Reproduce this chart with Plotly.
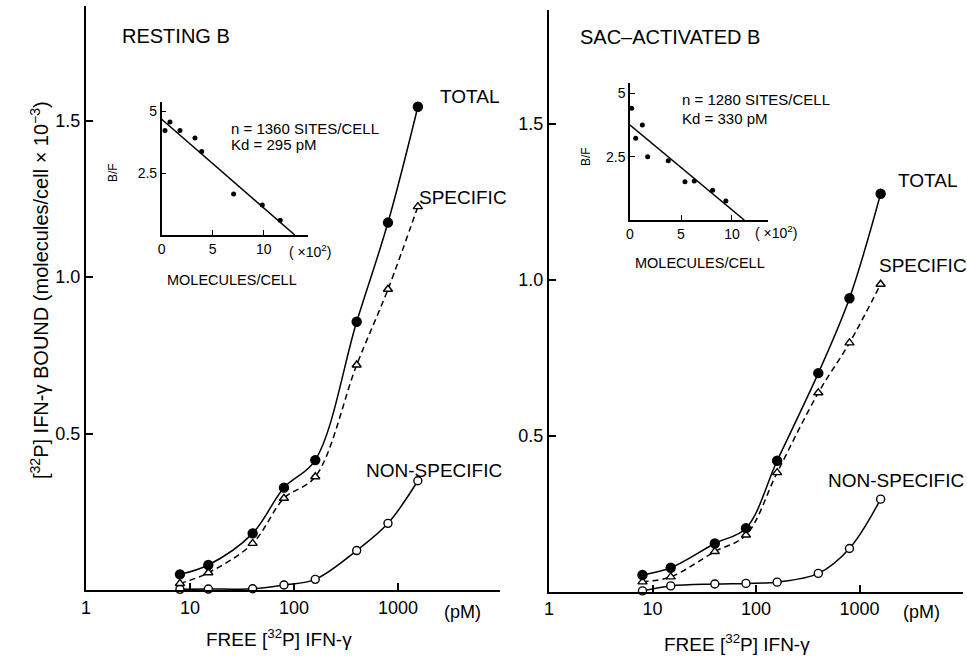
import plotly.graph_objects as go

W, H = 967, 658

# ---------------- data ----------------
conc_L = [8, 15, 40, 80, 160, 400, 800, 1550]
total_L = [0.050, 0.080, 0.181, 0.327, 0.415, 0.857, 1.174, 1.544]
spec_L = [0.021, 0.055, 0.149, 0.293, 0.362, 0.719, 0.961, 1.225]
nons_L = [0.002, 0.003, 0.004, 0.016, 0.034, 0.126, 0.213, 0.349]

conc_R = [8, 15, 40, 80, 160, 400, 800, 1600]
total_R = [0.053, 0.076, 0.154, 0.203, 0.419, 0.700, 0.940, 1.275]
spec_R = [0.031, 0.047, 0.128, 0.181, 0.381, 0.637, 0.797, 0.985]
nons_R = [0.002, 0.018, 0.024, 0.026, 0.030, 0.058, 0.138, 0.296]

# Scatchard insets (molecules/cell x10^2 vs B/F)
sc_x_L = [0.32, 0.81, 1.79, 3.26, 3.92, 7.05, 9.86, 11.62]
sc_y_L = [4.23, 4.58, 4.23, 3.93, 3.38, 1.66, 1.22, 0.60]
fit_x_L = [0.0, 13.05]
fit_y_L = [4.69, 0.0]

sc_x_R = [0.16, 0.56, 1.21, 1.73, 3.75, 5.39, 6.30, 8.10, 9.40]
sc_y_R = [4.41, 3.23, 3.75, 2.50, 2.34, 1.51, 1.54, 1.18, 0.75]
fit_x_R = [0.0, 11.2]
fit_y_R = [3.75, 0.0]

x_tickvals = [1, 10, 100, 1000]
x_ticktext = ["1", "10", "100", "1000"]
y_tickvals = [0.5, 1.0, 1.5]
y_ticktext = ["0.5", "1.0", "1.5"]
in_xtickvals = [0, 5, 10]
in_ytickvals = [2.5, 5]

FONT = "Liberation Sans, Arial, Helvetica, sans-serif"


def px(x):
    return min(1.0, max(0.0, x / W))


def py(y):
    return min(1.0, max(0.0, 1 - y / H))


fig = go.Figure()


def add_series(x, y, xa, ya, symbol, fill, dash, msize):
    fig.add_trace(go.Scatter(
        x=x, y=y, xaxis=xa, yaxis=ya, mode="lines+markers",
        line=dict(color="black", width=1.5, dash=dash, shape="spline", smoothing=1.0),
        marker=dict(symbol=symbol, size=msize, color=fill,
                    line=dict(color="black", width=1.4)),
        showlegend=False, hoverinfo="skip", cliponaxis=False))


# left panel
add_series(conc_L, nons_L, "x", "y", "circle", "white", "solid", 8)
add_series(conc_L, spec_L, "x", "y", "triangle-up", "white", "6px,4px", 8)
add_series(conc_L, total_L, "x", "y", "circle", "black", "solid", 9)
# right panel
add_series(conc_R, nons_R, "x2", "y2", "circle", "white", "solid", 8)
add_series(conc_R, spec_R, "x2", "y2", "triangle-up", "white", "6px,4px", 8)
add_series(conc_R, total_R, "x2", "y2", "circle", "black", "solid", 9)

# insets
for fx, fy, sx, sy, xa, ya in [(fit_x_L, fit_y_L, sc_x_L, sc_y_L, "x3", "y3"),
                               (fit_x_R, fit_y_R, sc_x_R, sc_y_R, "x4", "y4")]:
    fig.add_trace(go.Scatter(x=fx, y=fy, xaxis=xa, yaxis=ya, mode="lines",
                             line=dict(color="black", width=1.5),
                             showlegend=False, hoverinfo="skip", cliponaxis=False))
    fig.add_trace(go.Scatter(x=sx, y=sy, xaxis=xa, yaxis=ya, mode="markers",
                             marker=dict(color="black", size=5),
                             showlegend=False, hoverinfo="skip", cliponaxis=False))

main_x = dict(type="log", showline=True, linecolor="black", linewidth=2,
              ticks="inside", ticklen=7, tickwidth=1.5, tickcolor="black",
              tickvals=x_tickvals, ticktext=x_ticktext, showgrid=False,
              zeroline=False, tickfont=dict(family=FONT, size=18, color="black"),
              automargin=False)
main_y = dict(showline=True, linecolor="black", linewidth=2,
              ticks="inside", ticklen=7, tickwidth=1.5, tickcolor="black",
              tickvals=y_tickvals, ticktext=y_ticktext, showgrid=False,
              zeroline=False, tickfont=dict(family=FONT, size=18, color="black"),
              automargin=False)
in_x = dict(showline=True, linecolor="black", linewidth=1.5,
            ticks="inside", ticklen=5, tickwidth=1.2, tickcolor="black",
            tickvals=in_xtickvals, showgrid=False, zeroline=False,
            tickfont=dict(family=FONT, size=14, color="black"), automargin=False)
in_y = dict(showline=True, linecolor="black", linewidth=1.5,
            ticks="inside", ticklen=5, tickwidth=1.2, tickcolor="black",
            tickvals=in_ytickvals, showgrid=False, zeroline=False,
            tickfont=dict(family=FONT, size=14, color="black"), automargin=False)

fig.update_layout(
    width=W, height=H, margin=dict(l=0, r=0, t=0, b=0),
    paper_bgcolor="white", plot_bgcolor="rgba(0,0,0,0)",
    font=dict(family=FONT, color="black"),
    xaxis=dict(main_x, domain=[px(86), px(500)], range=[0, 3.98], anchor="y"),
    yaxis=dict(main_y, domain=[py(590), py(6)], range=[0, 1.866], anchor="x"),
    xaxis2=dict(main_x, domain=[px(549), px(963)], range=[0, 4.0], anchor="y2"),
    yaxis2=dict(main_y, domain=[py(591.5), py(10)], range=[0, 1.864], anchor="x2"),
    xaxis3=dict(in_x, domain=[px(161.7), px(308.3)], range=[0, 14.37], anchor="y3"),
    yaxis3=dict(in_y, domain=[py(235), py(101.7)], range=[0, 5.4], anchor="x3"),
    xaxis4=dict(in_x, domain=[px(630), px(768.3)], range=[0, 13.56], anchor="y4"),
    yaxis4=dict(in_y, domain=[py(220), py(83.3)], range=[0, 5.4], anchor="x4"),
)


def txt(x, y, s, size=18, xanchor="center", angle=0):
    fig.add_annotation(x=x / W, y=1 - y / H, xref="paper", yref="paper",
                       text=s, showarrow=False, xanchor=xanchor, yanchor="middle",
                       textangle=angle,
                       font=dict(family=FONT, size=size, color="black"))


# titles & labels
txt(120, 36, "RESTING B", 20, "left")
txt(578, 37, "SAC\u2013ACTIVATED B", 20, "left")
txt(438, 96, "TOTAL", 19, "left")
txt(417, 197, "SPECIFIC", 19, "left")
txt(364, 470, "NON-SPECIFIC", 19, "left")
txt(896, 180, "TOTAL", 19, "left")
txt(877, 265, "SPECIFIC", 19, "left")
txt(826, 480, "NON-SPECIFIC", 19, "left")

txt(462, 612, "(pM)", 18)
txt(921, 612, "(pM)", 18)
txt(279, 638, "FREE [<sup>32</sup>P] IFN-\u03b3", 19)
txt(737, 643, "FREE [<sup>32</sup>P] IFN-\u03b3", 19)
txt(40, 290, "[<sup>32</sup>P] IFN-\u03b3 BOUND (molecules/cell \u00d7 10<sup>\u22123</sup>)",
    20, "center", -90)

# inset labels
txt(229, 128, "n = 1360 SITES/CELL", 15, "left")
txt(229, 145, "Kd = 295 pM", 15, "left")
txt(680, 100, "n = 1280 SITES/CELL", 15, "left")
txt(680, 118, "Kd = 330 pM", 15, "left")
txt(113, 173, "B/F", 12, "center", -90)
txt(586, 157, "B/F", 12, "center", -90)
txt(310, 251, "( \u00d710<sup>2</sup>)", 14)
txt(776, 232, "( \u00d710<sup>2</sup>)", 14)
txt(232, 280, "MOLECULES/CELL", 14.5)
txt(700, 263, "MOLECULES/CELL", 14.5)

fig.write_html(
    "out.html",
    config={"displayModeBar": False},
    post_script="document.body.style.margin='0px';document.body.style.overflow='hidden';",
)
